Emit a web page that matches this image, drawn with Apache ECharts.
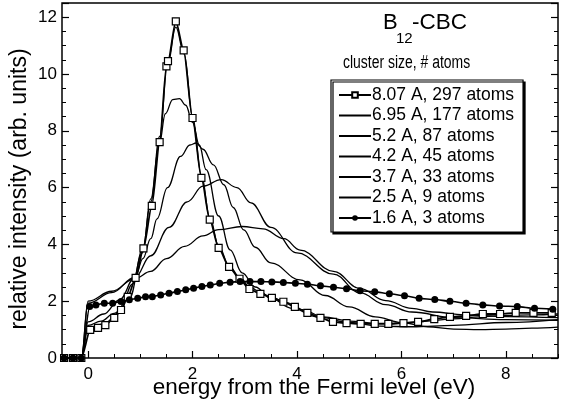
<!DOCTYPE html>
<html>
<head>
<meta charset="utf-8">
<script src="https://cdn.jsdelivr.net/npm/echarts@6/dist/echarts.min.js"></script>
<style>
  html, body { margin: 0; padding: 0; background: #fff; }
  #chart { width: 565px; height: 405px; }
</style>
</head>
<body>
<div id="chart"></div>
<script>
// Cluster sizes shown in the legend
const seriesNames = [
  '8.07 A, 297 atoms',
  '6.95 A, 177 atoms',
  '5.2 A, 87 atoms',
  '4.2 A, 45 atoms',
  '3.7 A, 33 atoms',
  '2.5 A, 9 atoms',
  '1.6 A, 3 atoms'
];

// Tick labels
const xTickLabels = [0, 2, 4, 6, 8];
const yTickLabels = [0, 2, 4, 6, 8, 10, 12];

// [energy (eV), relative intensity]
const atoms297 = [
  [-0.46, 0], [-0.29, 0], [-0.13, 0], [0.04, 0.99], [0.19, 1.06], [0.33, 1.16],
  [0.5, 1.41], [0.63, 1.69], [0.76, 2.15], [0.91, 2.82], [1.06, 3.86], [1.22, 5.36],
  [1.37, 7.6], [1.5, 10.27], [1.53, 10.45], [1.68, 11.85], [1.83, 10.83], [2.0, 8.45],
  [2.17, 6.34], [2.33, 4.87], [2.5, 3.88], [2.7, 3.21], [2.9, 2.79], [3.09, 2.43],
  [3.3, 2.26], [3.52, 2.12], [3.74, 1.98], [3.96, 1.8], [4.2, 1.59], [4.45, 1.41],
  [4.69, 1.27], [4.95, 1.23], [5.22, 1.2], [5.49, 1.2], [5.75, 1.2], [6.04, 1.23],
  [6.32, 1.27], [6.63, 1.37], [6.93, 1.45], [7.24, 1.48], [7.56, 1.55], [7.89, 1.55],
  [8.19, 1.59], [8.53, 1.59], [8.88, 1.59]
];
const atoms177 = [
  [-0.5, 0], [-0.13, 0], [0, 1.05], [0.3, 1.2], [0.6, 1.6], [0.85, 2.6], [1.05, 3.9],
  [1.2, 5.5], [1.37, 7.8], [1.52, 10.3], [1.68, 11.65], [1.84, 10.7], [2.0, 8.5],
  [2.17, 6.45], [2.33, 4.95], [2.5, 3.95], [2.7, 3.25], [2.9, 2.85], [3.1, 2.5],
  [3.3, 2.3], [3.5, 2.15], [3.8, 1.95], [4.1, 1.7], [4.5, 1.45], [5.0, 1.3], [5.5, 1.22],
  [6.0, 1.22], [6.5, 1.3], [7.0, 1.38], [7.5, 1.45], [8.0, 1.5], [8.5, 1.52], [9.0, 1.55]
];
const atoms87 = [
  [-0.5, 0], [-0.13, 0], [0, 1.15], [0.25, 1.3], [0.5, 1.57], [0.79, 2.1], [1.04, 3.7],
  [1.2, 5.6], [1.36, 7.5], [1.48, 8.6], [1.62, 9.1], [1.75, 9.13], [1.87, 8.9],
  [2.0, 8.3], [2.13, 7.5], [2.26, 6.63], [2.5, 5.0], [2.72, 3.81], [2.95, 3.0],
  [3.2, 2.5], [3.5, 2.1], [3.9, 1.75], [4.4, 1.45], [5.0, 1.25], [5.6, 1.12],
  [6.2, 1.1], [7.0, 1.15], [8.0, 1.25], [9.0, 1.35]
];
const atoms45 = [
  [-0.5, 0], [-0.13, 0], [0, 1.27], [0.3, 1.55], [0.6, 2.05], [0.9, 2.85], [1.05, 3.5],
  [1.2, 4.2], [1.32, 4.9], [1.52, 6.0], [1.77, 7.1], [1.95, 7.5], [2.07, 7.57],
  [2.2, 7.35], [2.4, 6.8], [2.6, 6.1], [2.78, 5.3], [2.98, 4.51], [3.2, 3.9],
  [3.5, 3.35], [4.06, 2.75], [4.54, 2.2], [5.0, 1.8], [5.5, 1.45], [6.0, 1.25],
  [6.5, 1.1], [7.0, 1.02], [7.5, 1.0], [8.0, 1.02], [8.5, 1.05], [9.0, 1.09]
];
const atoms33 = [
  [-0.5, 0], [-0.13, 0], [0, 1.93], [0.45, 2.3], [0.9, 2.85], [1.2, 3.6], [1.55, 4.6],
  [1.9, 5.5], [2.2, 6.05], [2.55, 6.28], [2.85, 6.0], [3.12, 5.46], [3.5, 4.6],
  [4.0, 3.7], [4.7, 2.95], [5.2, 2.3], [5.7, 1.88], [6.2, 1.62], [7.0, 1.42],
  [8.0, 1.35], [9.0, 1.33]
];
const atoms9 = [
  [-0.5, 0], [-0.13, 0], [0, 2.0], [0.45, 2.35], [0.9, 2.8], [1.2, 3.05], [1.5, 3.5],
  [1.85, 3.93], [2.2, 4.3], [2.5, 4.52], [2.95, 4.63], [3.35, 4.55], [3.75, 4.2],
  [4.06, 3.8], [4.7, 3.05], [5.2, 2.45], [5.7, 2.02], [6.2, 1.75], [6.6, 1.62],
  [7.2, 1.52], [8.0, 1.46], [9.0, 1.42]
];
const atoms3 = [
  [-0.46, 0], [-0.29, 0], [-0.13, 0], [0.03, 1.81], [0.15, 1.87], [0.31, 1.93],
  [0.47, 1.93], [0.63, 1.99], [0.79, 2.05], [0.95, 2.1], [1.1, 2.16], [1.23, 2.16],
  [1.39, 2.22], [1.55, 2.28], [1.71, 2.34], [1.87, 2.4], [2.02, 2.46], [2.18, 2.52],
  [2.34, 2.57], [2.52, 2.63], [2.72, 2.67], [2.91, 2.69], [3.1, 2.69], [3.31, 2.69],
  [3.52, 2.68], [3.74, 2.66], [3.97, 2.63], [4.2, 2.6], [4.45, 2.54], [4.7, 2.49],
  [4.95, 2.44], [5.21, 2.37], [5.49, 2.33], [5.77, 2.26], [6.06, 2.19], [6.34, 2.1],
  [6.64, 2.06], [6.93, 2.0], [7.24, 1.93], [7.56, 1.87], [7.88, 1.83], [8.22, 1.81],
  [8.55, 1.75], [8.9, 1.72]
];

const curves = [atoms297, atoms177, atoms87, atoms45, atoms33, atoms9, atoms3];

const FONT = '"Liberation Sans", Arial, sans-serif';
const chart = echarts.init(document.getElementById('chart'), null, { renderer: 'canvas' });

// minor ticks every 0.5 eV along the energy axis
const minorEvery = [];
for (let v = -0.5; v <= 9.001; v += 0.5) minorEvery.push(Math.round(v * 10) / 10);

function lineSeries(i) {
  const base = {
    name: seriesNames[i],
    type: 'line',
    data: curves[i],
    xAxisIndex: 0,
    yAxisIndex: 0,
    smooth: 0.4,
    smoothMonotone: 'x',
    lineStyle: { color: '#000', width: 1.3 },
    itemStyle: { color: '#000' },
    symbol: 'none',
    animation: false,
    z: 3
  };
  if (i === 0) {
    base.symbol = 'rect';
    base.symbolSize = 7;
    base.showSymbol = true;
    base.itemStyle = { color: '#fff', borderColor: '#000', borderWidth: 1.2 };
    base.lineStyle = { color: '#000', width: 1.8 };
    base.smooth = 0.25;
  } else if (i === 6) {
    base.symbol = 'circle';
    base.symbolSize = 7;
    base.showSymbol = true;
    base.itemStyle = { color: '#000', borderColor: '#000', borderWidth: 0 };
    base.lineStyle = { color: '#000', width: 1.6 };
    base.smooth = 0.25;
  }
  return base;
}

// legend entries: plain lines hide the marker glyph
const legendData = seriesNames.map((n, i) =>
  (i === 0 || i === 6) ? { name: n } : { name: n, itemStyle: { opacity: 0 } });

const option = {
  backgroundColor: '#fff',
  animation: false,
  textStyle: { fontFamily: FONT, color: '#000' },
  grid: {
    left: 62, right: 7, top: 3, bottom: 47,
    show: true, borderColor: '#000', borderWidth: 1.5, backgroundColor: 'transparent'
  },
  xAxis: [
    {
      type: 'value', min: -0.5, max: 9, position: 'bottom',
      axisLine: { show: false, onZero: false },
      axisTick: { show: true, inside: true, length: 7, customValues: xTickLabels,
                  lineStyle: { color: '#000', width: 1.2 } },
      axisLabel: { show: true, customValues: xTickLabels, fontSize: 17, color: '#000',
                   fontFamily: FONT, margin: 8 },
      splitLine: { show: false }
    },
    {
      type: 'value', min: -0.5, max: 9, position: 'bottom',
      axisLine: { show: false, onZero: false },
      axisTick: { show: true, inside: true, length: 4, customValues: minorEvery,
                  lineStyle: { color: '#000', width: 1 } },
      axisLabel: { show: false },
      splitLine: { show: false }
    }
  ],
  yAxis: [
    {
      type: 'value', min: 0, max: 12.5, interval: 2, position: 'left',
      axisLine: { show: false, onZero: false },
      axisTick: { show: true, inside: true, length: 7, lineStyle: { color: '#000', width: 1.2 } },
      minorTick: { show: true, splitNumber: 4, length: 4, lineStyle: { color: '#000', width: 1 } },
      axisLabel: { fontSize: 17, color: '#000', fontFamily: FONT, margin: 5, showMaxLabel: false,
                   formatter: v => (yTickLabels.indexOf(v) >= 0 ? String(v) : '') },
      splitLine: { show: false }
    },
    {
      type: 'value', min: 0, max: 12.5, interval: 2, position: 'right',
      axisLine: { show: false, onZero: false },
      axisTick: { show: true, inside: true, length: 7, lineStyle: { color: '#000', width: 1.2 } },
      minorTick: { show: true, splitNumber: 4, length: 4, lineStyle: { color: '#000', width: 1 } },
      axisLabel: { show: false },
      splitLine: { show: false }
    }
  ],
  legend: {
    orient: 'vertical',
    left: 331, top: 80,
    padding: [6, 9, 5, 7],
    itemWidth: 32, itemHeight: 7, itemGap: 2.5,
    backgroundColor: '#fff',
    borderColor: '#000', borderWidth: 1.2,
    shadowColor: '#000', shadowOffsetX: 2, shadowOffsetY: 2, shadowBlur: 0,
    textStyle: { fontSize: 17.5, color: '#000', fontFamily: FONT, padding: [0, 0, 0, -4] },
    data: legendData
  },
  graphic: [
    {
      type: 'text', x: 383, y: 22.5,
      style: { text: 'B', fontSize: 22, fontFamily: FONT, fill: '#000', textVerticalAlign: 'middle' }
    },
    {
      type: 'text', x: 396, y: 39,
      style: { text: '12', fontSize: 15, fontFamily: FONT, fill: '#000', textVerticalAlign: 'middle' }
    },
    {
      type: 'text', x: 412, y: 22.5,
      style: { text: '-CBC', fontSize: 22.5, fontFamily: FONT, fill: '#000', textVerticalAlign: 'middle' }
    },
    {
      type: 'text', x: 343, y: 63, scaleX: 0.775,
      style: { text: 'cluster size, # atoms', fontSize: 18, fontFamily: FONT, fill: '#000',
               textVerticalAlign: 'middle' }
    },
    {
      type: 'text', x: 20, y: 189, rotation: Math.PI / 2,
      style: { text: 'relative intensity (arb. units)', fontSize: 23, fontFamily: FONT, fill: '#000',
               textAlign: 'center', textVerticalAlign: 'middle' }
    },
    {
      type: 'text', x: 314, y: 388,
      style: { text: 'energy from the Fermi level (eV)', fontSize: 22.5, fontFamily: FONT, fill: '#000',
               textAlign: 'center', textVerticalAlign: 'middle' }
    }
  ],
  series: curves.map((c, i) => lineSeries(i))
};

chart.setOption(option);
</script>
</body>
</html>
